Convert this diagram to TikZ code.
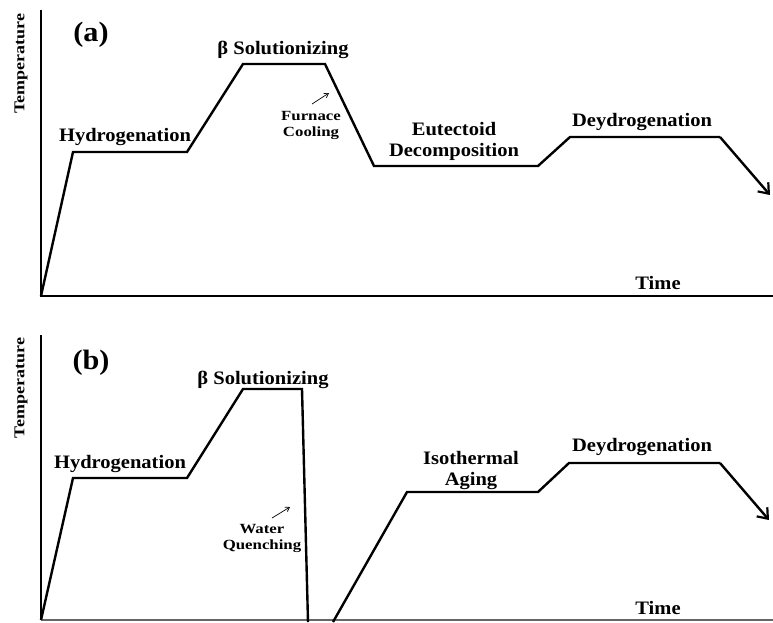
\documentclass[tikz,border=0pt]{standalone}
\usepackage{fontspec}
\setmainfont{Liberation Serif}
\newfontfamily\widefont[FakeStretch=1.2]{Liberation Serif}
\newfontfamily\labfont[FakeStretch=1.08]{Liberation Serif}
\usetikzlibrary{arrows.meta}
\tikzset{
  curve/.style={line width=2.4pt, line join=miter},
  axis/.style={line width=2.4pt},
  lab/.style={font=\labfont\bfseries\fontsize{19}{21}\selectfont, inner sep=0pt},
  panel/.style={font=\labfont\bfseries\fontsize{28}{30}\selectfont, inner sep=0pt},
  small/.style={font=\widefont\bfseries\fontsize{14}{16}\selectfont, align=center, inner sep=0pt},
  ylab/.style={font=\widefont\bfseries\fontsize{15}{17}\selectfont, rotate=90, inner sep=0pt},
  endarrow/.style={-{Straight Barb[length=9pt,width=14pt,line width=2.2pt]}},
  tinyarrow/.style={line width=0.7pt, -{Straight Barb[length=4pt,width=5pt]}}
}
\begin{document}
\begin{tikzpicture}[x=1pt,y=-1pt]
\useasboundingbox (0,0) rectangle (773,622);
% ---------- panel (a) ----------
\coordinate (aO) at (41,296);
\coordinate (aTop) at (41,10);
\coordinate (aR) at (773,296);
\draw[axis] (aTop) -- (aO) -- (aR);
\coordinate (a1) at (73,152);
\coordinate (a2) at (187,152);
\coordinate (a3) at (243,64);
\coordinate (a4) at (325,64);
\coordinate (a5) at (374,166);
\coordinate (a6) at (538,166);
\coordinate (a7) at (570,137);
\coordinate (a8) at (720,137);
\coordinate (a9) at (770,195);
\draw[curve] (aO) -- (a1) -- (a2) -- (a3) -- (a4) -- (a5) -- (a6) -- (a7) -- (a8);
\draw[curve, endarrow] (a8) -- (a9);
\node[ylab] (aT) at (21,64) {Temperature};
\node[panel] (aP) at (91,35) {(a)};
\node[lab] (aBeta) at (283,50) {β Solutionizing};
\node[lab] (aH) at (125,137) {Hydrogenation};
\node[small] (aFC) at (311,125) {Furnace\\Cooling};
\coordinate (aFs) at (312,104);
\coordinate (aFe) at (329,93);
\draw[tinyarrow] (aFs) -- (aFe);
\node[lab, align=center] (aE) at (454,141) {Eutectoid\\Decomposition};
\node[lab] (aD) at (642,122) {Deydrogenation};
\node[lab] (aTime) at (658,283) {Time};
% ---------- panel (b) ----------
\coordinate (bO) at (41,620);
\coordinate (bTop) at (41,335);
\coordinate (bR) at (773,620);
\draw[axis] (bTop) -- (bO);
\draw[line width=1.2pt, black!60] (bO) -- (bR);
\coordinate (b1) at (73,478);
\coordinate (b2) at (187,478);
\coordinate (b3) at (243,389);
\coordinate (b4) at (302,389);
\coordinate (b5) at (308,622);
\coordinate (b6) at (333,622);
\coordinate (b7) at (407,492);
\coordinate (b8) at (538,492);
\coordinate (b9) at (569,463);
\coordinate (b10) at (720,463);
\coordinate (b11) at (769,520);
\draw[curve] (bO) -- (b1) -- (b2) -- (b3) -- (b4) -- (b5);
\draw[curve] (b6) -- (b7) -- (b8) -- (b9) -- (b10);
\draw[curve, endarrow] (b10) -- (b11);
\node[ylab] (bT) at (21,388) {Temperature};
\node[panel] (bP) at (91,363) {(b)};
\node[lab] (bBeta) at (263,380) {β Solutionizing};
\node[lab] (bH) at (120,464) {Hydrogenation};
\node[small] (bWQ) at (262,538) {Water\\Quenching};
\coordinate (bWs) at (272,518);
\coordinate (bWe) at (290,507);
\draw[tinyarrow] (bWs) -- (bWe);
\node[lab, align=center] (bI) at (471,470) {Isothermal\\Aging};
\node[lab] (bD) at (642,447) {Deydrogenation};
\node[lab] (bTime) at (658,608) {Time};
\end{tikzpicture}
\end{document}
